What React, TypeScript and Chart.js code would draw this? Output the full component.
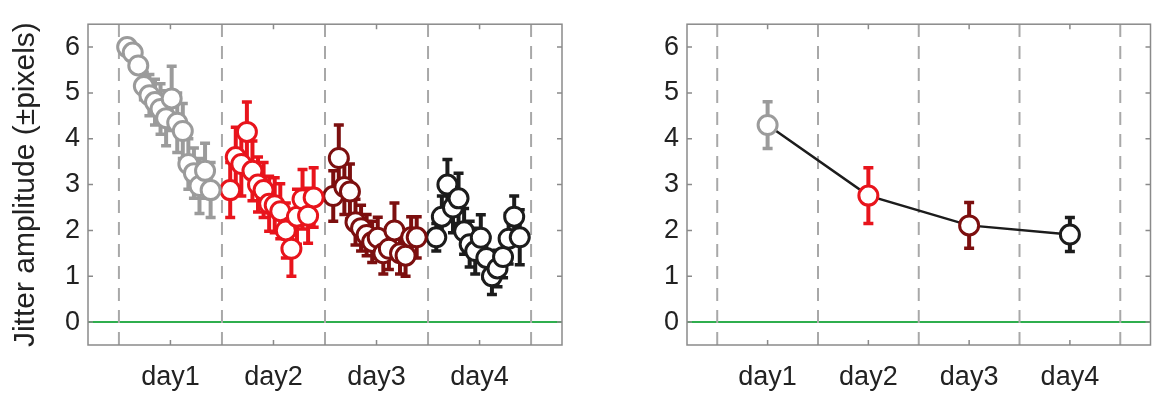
import React, { useEffect, useRef } from "react";
import { Chart, registerables } from "chart.js";
Chart.register(...registerables);

const dayLabels = ["day1", "day2", "day3", "day4"];
const dayTicks = [1, 2, 3, 4];
const yTicks = [0, 1, 2, 3, 4, 5, 6];
const dayBoundaries = [0.5, 1.5, 2.5, 3.5, 4.5];
const dayColors = ["#9b9b9b", "#e8141c", "#7c0f0f", "#1c1c1c"];

// Left panel: per-session jitter amplitude (16 sessions per day)
const day1Values = [6.0, 5.88, 5.6, 5.15, 4.95, 4.8, 4.65, 4.45, 4.88, 4.35, 4.17, 3.45, 3.25, 2.97, 3.3, 2.88];
const day1Errors = [0.08, 0.1, 0.15, 0.3, 0.45, 0.5, 0.55, 0.6, 0.7, 0.65, 0.6, 0.55, 0.55, 0.6, 0.6, 0.6];
const day2Values = [2.88, 3.6, 3.45, 4.15, 3.3, 3.0, 2.88, 2.58, 2.55, 2.42, 2.0, 1.6, 2.3, 2.68, 2.32, 2.72];
const day2Errors = [0.6, 0.65, 0.7, 0.65, 0.65, 0.6, 0.6, 0.6, 0.6, 0.6, 0.6, 0.6, 0.6, 0.65, 0.6, 0.65];
const day3Values = [2.75, 3.58, 2.95, 2.85, 2.18, 2.05, 1.9, 1.75, 1.84, 1.5, 1.6, 2.0, 1.5, 1.45, 1.85, 1.85];
const day3Errors = [0.55, 0.72, 0.6, 0.6, 0.5, 0.5, 0.45, 0.45, 0.45, 0.45, 0.45, 0.6, 0.45, 0.45, 0.45, 0.45];
const day4Values = [1.85, 2.3, 3.0, 2.5, 2.7, 1.98, 1.7, 1.55, 1.84, 1.4, 1.0, 1.17, 1.42, 1.82, 2.3, 1.85];
const day4Errors = [0.3, 0.45, 0.55, 0.55, 0.55, 0.5, 0.5, 0.5, 0.5, 0.45, 0.4, 0.4, 0.45, 0.55, 0.45, 0.6];

// Right panel: daily means
const meanValues = [4.3, 2.76, 2.11, 1.91];
const meanErrors = [0.51, 0.61, 0.5, 0.37];

const sessionValues = [day1Values, day2Values, day3Values, day4Values];
const sessionErrors = [day1Errors, day2Errors, day3Errors, day4Errors];

const FONT = "'Liberation Sans', Arial, sans-serif";
const TEXT = "#222222";
const XMIN = 0.2, XMAX = 4.8, YMIN = -0.5, YMAX = 6.5;

const errorBarPlugin = {
  id: "errorBars",
  beforeDatasetDraw(chart: any, args: any) {
    const ds = chart.data.datasets[args.index];
    if (!ds.errors) return;
    const { ctx, scales } = chart;
    const x = scales.x, y = scales.y;
    ctx.save();
    ds.data.forEach((p: any, i: number) => {
      const col = Array.isArray(ds.borderColor) ? ds.borderColor[i] : ds.borderColor;
      const px = x.getPixelForValue(p.x);
      const top = y.getPixelForValue(p.y + ds.errors[i]);
      const bot = y.getPixelForValue(p.y - ds.errors[i]);
      ctx.strokeStyle = col;
      ctx.lineWidth = 4;
      ctx.beginPath();
      ctx.moveTo(px, top);
      ctx.lineTo(px, bot);
      ctx.stroke();
      ctx.lineWidth = 3.5;
      ctx.beginPath();
      ctx.moveTo(px - 5, top);
      ctx.lineTo(px + 5, top);
      ctx.moveTo(px - 5, bot);
      ctx.lineTo(px + 5, bot);
      ctx.stroke();
    });
    ctx.restore();
  },
};

const framePlugin = {
  id: "frame",
  afterDraw(chart: any) {
    const { ctx, chartArea: a, scales } = chart;
    ctx.save();
    ctx.strokeStyle = "#8a8a8a";
    ctx.lineWidth = 1.5;
    ctx.strokeRect(a.left, a.top, a.right - a.left, a.bottom - a.top);
    ctx.beginPath();
    yTicks.forEach((t) => {
      const py = scales.y.getPixelForValue(t);
      ctx.moveTo(a.left, py);
      ctx.lineTo(a.left + 5, py);
      ctx.moveTo(a.right, py);
      ctx.lineTo(a.right - 5, py);
    });
    dayTicks.forEach((t) => {
      const px = scales.x.getPixelForValue(t);
      ctx.moveTo(px, a.bottom);
      ctx.lineTo(px, a.bottom - 5);
      ctx.moveTo(px, a.top);
      ctx.lineTo(px, a.top + 5);
    });
    ctx.stroke();
    ctx.restore();
  },
};

function refLines() {
  const sets: any[] = dayBoundaries.map((b) => ({
    type: "line",
    data: [{ x: b, y: YMIN }, { x: b, y: YMAX }],
    borderColor: "#a8a8a8",
    borderWidth: 2,
    borderDash: [13, 9],
    pointRadius: 0,
  }));
  sets.push({
    type: "line",
    data: [{ x: XMIN, y: 0 }, { x: XMAX, y: 0 }],
    borderColor: "#2fae4e",
    borderWidth: 2,
    pointRadius: 0,
  });
  return sets;
}

function makeOptions(yWidth: number, padRight: number, showTitle: boolean) {
  return {
    animation: false,
    responsive: false,
    layout: { padding: { top: 10, right: padRight, left: 0, bottom: 0 } },
    plugins: { legend: { display: false }, tooltip: { enabled: false } },
    scales: {
      x: {
        type: "linear",
        min: XMIN,
        max: XMAX,
        afterBuildTicks: (s: any) => { s.ticks = dayTicks.map((v) => ({ value: v })); },
        afterFit: (s: any) => { s.height = 54; },
        ticks: {
          callback: (v: any) => dayLabels[dayTicks.indexOf(v)] ?? "",
          font: { family: FONT, size: 27 },
          color: TEXT,
          padding: 16,
          maxRotation: 0,
          autoSkip: false,
        },
        grid: { display: false, drawTicks: false },
        border: { display: false },
      },
      y: {
        type: "linear",
        min: YMIN,
        max: YMAX,
        afterBuildTicks: (s: any) => { s.ticks = yTicks.map((v) => ({ value: v })); },
        afterFit: (s: any) => { s.width = yWidth; },
        ticks: {
          font: { family: FONT, size: 27 },
          color: TEXT,
          padding: 8,
          autoSkip: false,
        },
        title: {
          display: showTitle,
          text: "Jitter amplitude (±pixels)",
          font: { family: FONT, size: 30 },
          color: TEXT,
          padding: { top: 8, bottom: 0 },
        },
        grid: { display: false, drawTicks: false },
        border: { display: false },
      },
    },
  } as any;
}

export default function App() {
  const leftRef = useRef<HTMLCanvasElement>(null);
  const rightRef = useRef<HTMLCanvasElement>(null);

  useEffect(() => {
    document.body.style.margin = "0";
    const leftSets: any[] = sessionValues.map((vals, d) => ({
      type: "scatter",
      data: vals.map((v, i) => ({ x: d + 1 - 0.42 + i * 0.054, y: v })),
      errors: sessionErrors[d],
      borderColor: dayColors[d],
      backgroundColor: "#ffffff",
      pointRadius: 9.5,
      pointBorderWidth: 3,
      pointBackgroundColor: "#ffffff",
      pointBorderColor: dayColors[d],
    }));
    const left = new Chart(leftRef.current!, {
      type: "scatter",
      data: { datasets: [...leftSets, ...refLines()] },
      options: makeOptions(88, 13, true),
      plugins: [errorBarPlugin, framePlugin],
    } as any);

    const meanPoints = meanValues.map((v, i) => ({ x: dayTicks[i], y: v }));
    const right = new Chart(rightRef.current!, {
      type: "scatter",
      data: {
        datasets: [
          {
            type: "scatter",
            data: meanPoints,
            errors: meanErrors,
            borderColor: dayColors,
            pointRadius: 9.5,
            pointBorderWidth: 3,
            pointBackgroundColor: "#ffffff",
            pointBorderColor: dayColors,
          },
          {
            type: "line",
            data: meanPoints,
            borderColor: "#1c1c1c",
            borderWidth: 2.5,
            pointRadius: 0,
          },
          ...refLines(),
        ] as any,
      },
      options: makeOptions(87, 5, false),
      plugins: [errorBarPlugin, framePlugin],
    } as any);
    return () => {
      left.destroy();
      right.destroy();
    };
  }, []);

  return (
    <div style={{ position: "relative", width: 1163, height: 399, background: "#fff" }}>
      <canvas ref={leftRef} width={575} height={399} style={{ position: "absolute", left: 0, top: 0 }} />
      <canvas ref={rightRef} width={563} height={399} style={{ position: "absolute", left: 600, top: 0 }} />
    </div>
  );
}
